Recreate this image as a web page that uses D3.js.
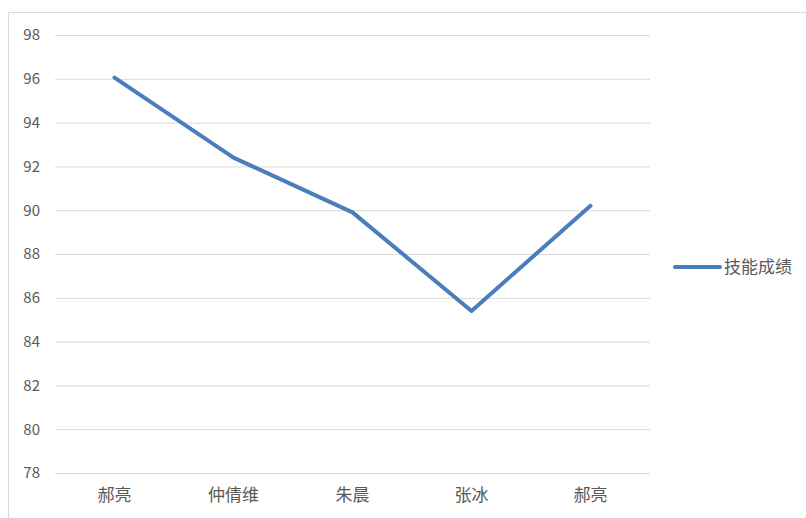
<!DOCTYPE html>
<html><head><meta charset="utf-8">
<script src="https://cdn.jsdelivr.net/npm/d3@7"></script>
<style>html,body{margin:0;padding:0;background:#fff;}svg{display:block;}</style>
</head><body>
<svg id="c" width="806" height="518"></svg>
<script>
const categories = ["郝亮", "仲倩维", "朱晨", "张冰", "郝亮"];
const seriesName = "技能成绩";
const values = [96.05, 92.4, 89.9, 85.4, 90.2];
const yTicks = [78, 80, 82, 84, 86, 88, 90, 92, 94, 96, 98];

const svg = d3.select("#c");
const font = "'Noto Sans CJK SC','Microsoft YaHei',sans-serif";
const plotL = 55, plotR = 650, plotT = 35, plotB = 473;

// chart frame
svg.append("rect").attr("x", 8.5).attr("y", 12.5).attr("width", 820).attr("height", 540)
  .attr("fill", "#fff").attr("stroke", "#d9d9d9").attr("stroke-width", 1);

const x = d3.scaleBand().domain(d3.range(categories.length)).range([plotL, plotR]);
const y = d3.scaleLinear().domain([78, 98]).range([plotB, plotT]);

// gridlines
svg.append("g").attr("transform", `translate(${plotL},0)`)
  .call(d3.axisLeft(y).tickValues(yTicks).tickSize(-(plotR - plotL)).tickFormat(""))
  .call(g => g.select(".domain").remove())
  .call(g => g.selectAll("line").attr("stroke", "#d9d9d9").attr("stroke-width", 1));

// y labels
svg.append("g").attr("transform", `translate(40,0)`)
  .call(d3.axisLeft(y).tickValues(yTicks).tickSize(0).tickPadding(0))
  .call(g => g.select(".domain").remove())
  .call(g => g.selectAll("text").attr("fill", "#595959").attr("font-size", 15).attr("font-family", font));

// x labels
svg.append("g").attr("transform", `translate(0,${plotB})`)
  .call(d3.axisBottom(x).tickSize(0).tickPadding(16).tickFormat(i => categories[i]))
  .call(g => g.select(".domain").remove())
  .call(g => g.selectAll("text").attr("fill", "#595959").attr("font-size", 17).attr("font-family", font));

// line
const line = d3.line().x((d, i) => x(i) + x.bandwidth() / 2).y(d => y(d));
svg.append("path").datum(values).attr("d", line)
  .attr("fill", "none").attr("stroke", "#4a7ebb").attr("stroke-width", 4)
  .attr("stroke-linejoin", "round").attr("stroke-linecap", "round");

// legend
const lg = svg.append("g").attr("transform", "translate(675,267)");
lg.append("line").attr("x1", 0).attr("x2", 45).attr("y1", 0).attr("y2", 0)
  .attr("stroke", "#4a7ebb").attr("stroke-width", 4).attr("stroke-linecap", "round");
lg.append("text").attr("x", 49).attr("y", 0).attr("dy", "0.35em")
  .attr("fill", "#595959").attr("font-size", 17).attr("font-family", font).text(seriesName);
</script>
</body></html>
